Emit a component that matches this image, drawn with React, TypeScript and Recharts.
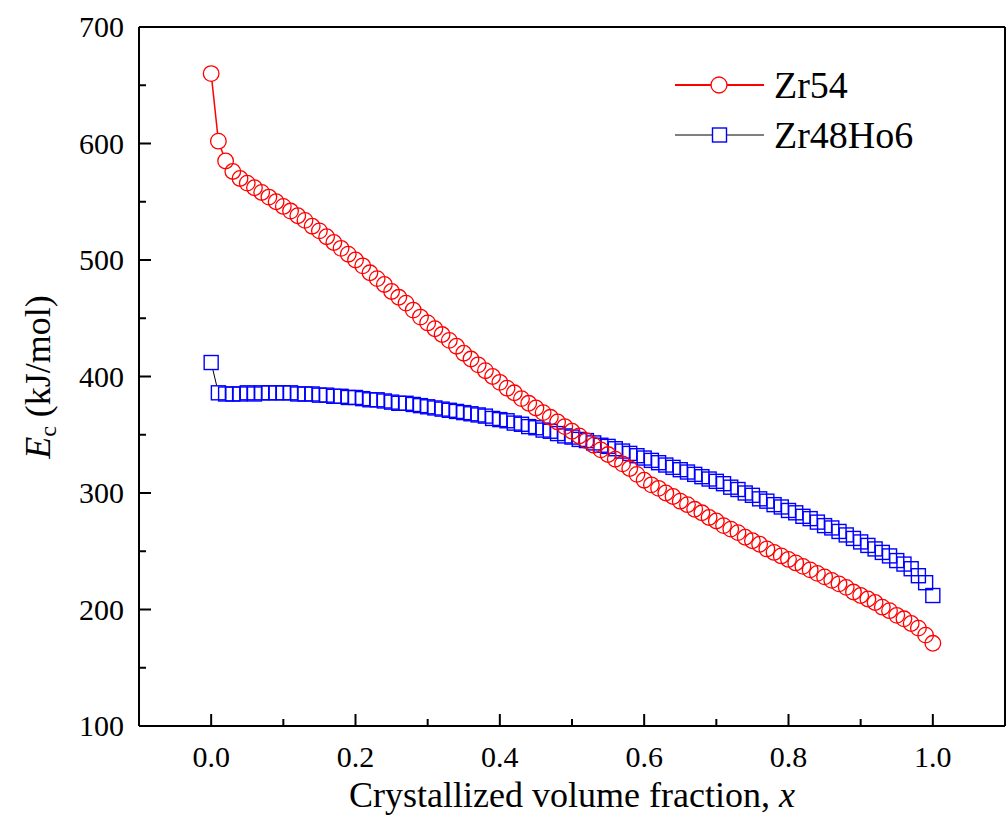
import { LineChart, Line, XAxis, YAxis, ReferenceLine, Legend, Label } from "recharts";

const FONT = "Liberation Serif";

// crystallized volume fraction x
const fractions = [
  0.0, 0.01, 0.02, 0.03, 0.04, 0.05, 0.06, 0.07, 0.08, 0.09,
  0.1, 0.11, 0.12, 0.13, 0.14, 0.15, 0.16, 0.17, 0.18, 0.19,
  0.2, 0.21, 0.22, 0.23, 0.24, 0.25, 0.26, 0.27, 0.28, 0.29,
  0.3, 0.31, 0.32, 0.33, 0.34, 0.35, 0.36, 0.37, 0.38, 0.39,
  0.4, 0.41, 0.42, 0.43, 0.44, 0.45, 0.46, 0.47, 0.48, 0.49,
  0.5, 0.51, 0.52, 0.53, 0.54, 0.55, 0.56, 0.57, 0.58, 0.59,
  0.6, 0.61, 0.62, 0.63, 0.64, 0.65, 0.66, 0.67, 0.68, 0.69,
  0.7, 0.71, 0.72, 0.73, 0.74, 0.75, 0.76, 0.77, 0.78, 0.79,
  0.8, 0.81, 0.82, 0.83, 0.84, 0.85, 0.86, 0.87, 0.88, 0.89,
  0.9, 0.91, 0.92, 0.93, 0.94, 0.95, 0.96, 0.97, 0.98, 0.99,
  1.0,
];

// Ec (kJ/mol), Zr54
const zr54 = [
  660, 602, 585, 576, 570, 566, 562, 558, 554, 550,
  546, 542, 538, 534, 529, 525, 520, 515, 510, 505,
  500, 495, 489, 484, 479, 473, 468, 463, 457, 451,
  446, 441, 436, 431, 426, 420, 415, 410, 405, 400,
  395, 390, 386, 381, 377, 373, 369, 365, 361, 357,
  353, 349, 345, 341, 337, 333, 329, 325, 321, 316,
  311, 307, 304, 300, 297, 293, 290, 286, 283, 279,
  276, 272, 269, 266, 262, 259, 256, 252, 249, 246,
  243, 240, 237, 234, 231, 228, 225, 222, 219, 215,
  212, 209, 206, 202, 199, 195, 192, 188, 184, 178,
  171,
];

// Ec (kJ/mol), Zr48Ho6
const zr48ho6 = [
  412, 386, 385, 385, 385, 386, 385, 386, 386, 386,
  386, 386, 385, 385, 385, 384, 384, 383, 383, 382,
  382, 381, 380, 380, 379, 378, 377, 377, 376, 375,
  374, 373, 372, 371, 370, 369, 368, 367, 366, 364,
  363, 362, 360, 359, 357, 356, 354, 353, 351, 349,
  348, 346, 345, 343, 341, 340, 338, 336, 334, 332,
  330, 328, 326, 324, 322, 320, 318, 316, 314, 312,
  310, 308, 305, 303, 300, 298, 295, 293, 290, 288,
  285, 283, 280, 278, 275, 272, 270, 267, 264, 261,
  258, 255, 252, 249, 246, 242, 239, 235, 229, 223,
  212,
];

const xTicks = [0, 0.1, 0.2, 0.3, 0.4, 0.5, 0.6, 0.7, 0.8, 0.9, 1.0];
const yTicks = [100, 150, 200, 250, 300, 350, 400, 450, 500, 550, 600, 650, 700];

const data = fractions.map((x, i) => ({ x, zr54: zr54[i], zr48ho6: zr48ho6[i] }));

const XTick = ({ x, y, payload }: any) => {
  const v = payload.value;
  const major = Math.round(v * 10) % 2 === 0;
  return (
    <g>
      <line x1={x} x2={x} y1={y} y2={y - (major ? 12 : 7)} stroke="#000" strokeWidth={2} />
      {major && (
        <text x={x} y={y + 41} textAnchor="middle" fontSize={30} style={{ fontFamily: FONT }}>
          {v.toFixed(1)}
        </text>
      )}
    </g>
  );
};

const YTick = ({ x, y, payload }: any) => {
  const v = payload.value;
  const major = v % 100 === 0;
  return (
    <g>
      <line x1={x} x2={x + (major ? 12 : 7)} y1={y} y2={y} stroke="#000" strokeWidth={2} />
      {major && (
        <text x={x - 15} y={y + 10} textAnchor="end" fontSize={30} style={{ fontFamily: FONT }}>
          {v}
        </text>
      )}
    </g>
  );
};

// white discs hide the connecting line inside the markers, outlines go on top
const whiteSquare = (p: any) => (
  <rect key={`bw${p.index}`} x={p.cx - 7} y={p.cy - 7} width={14} height={14} fill="#fff" stroke="none" />
);
const whiteCircle = (p: any) => (
  <circle key={`rw${p.index}`} cx={p.cx} cy={p.cy} r={7.8} fill="#fff" stroke="none" />
);
const blueSquare = (p: any) => (
  <rect key={`bs${p.index}`} x={p.cx - 7} y={p.cy - 7} width={14} height={14} fill="none" stroke="#0000ff" strokeWidth={1.4} />
);
const redCircle = (p: any) => (
  <circle key={`rc${p.index}`} cx={p.cx} cy={p.cy} r={7.8} fill="none" stroke="#ff0000" strokeWidth={1.3} />
);

const LegendBox = () => (
  <svg width={260} height={100} style={{ display: "block" }}>
    <line x1={15} x2={104} y1={25} y2={25} stroke="#ff0000" strokeWidth={2} />
    <circle cx={59} cy={25} r={8} fill="#fff" stroke="#ff0000" strokeWidth={1.3} />
    <text x={114} y={38} fontSize={38} style={{ fontFamily: FONT }}>Zr54</text>
    <line x1={15} x2={104} y1={75} y2={75} stroke="#000" strokeWidth={1} />
    <rect x={52.5} y={68} width={14} height={14} fill="#fff" stroke="#0000ff" strokeWidth={1.4} />
    <text x={114} y={88} fontSize={38} style={{ fontFamily: FONT }}>Zr48Ho6</text>
  </svg>
);

export default function App() {
  return (
    <div style={{ position: "absolute", left: 0, top: 0, background: "#fff" }}>
      <LineChart width={1007} height={823} data={data} margin={{ top: 27, right: 2, bottom: 0, left: 0 }}>
        <XAxis
          dataKey="x"
          type="number"
          domain={[-0.1, 1.1]}
          ticks={xTicks}
          allowDataOverflow
          height={97}
          tickSize={0}
          tickMargin={0}
          tickLine={false}
          axisLine={{ stroke: "#000", strokeWidth: 2 }}
          tick={<XTick />}
          interval={0}
        >
          <Label
            content={() => (
              <text x={572} y={807} textAnchor="middle" fontSize={36} style={{ fontFamily: FONT }}>
                Crystallized volume fraction, <tspan fontStyle="italic">x</tspan>
              </text>
            )}
          />
        </XAxis>
        <YAxis
          type="number"
          domain={[100, 700]}
          ticks={yTicks}
          allowDataOverflow
          width={139}
          tickSize={0}
          tickMargin={0}
          tickLine={false}
          axisLine={{ stroke: "#000", strokeWidth: 2 }}
          tick={<YTick />}
          interval={0}
        >
          <Label
            content={() => (
              <text transform="translate(50, 377) rotate(-90)" textAnchor="middle" fontSize={36} style={{ fontFamily: FONT }}>
                <tspan fontStyle="italic">E</tspan>
                <tspan fontSize={24} dy={6}>c</tspan>
                <tspan dy={-6}> (kJ/mol)</tspan>
              </text>
            )}
          />
        </YAxis>
        <ReferenceLine y={700} stroke="#000" strokeWidth={2} ifOverflow="visible" />
        <ReferenceLine x={1.1} stroke="#000" strokeWidth={2} ifOverflow="visible" />
        <Legend
          layout="horizontal"
          verticalAlign="middle"
          align="center"
          content={() => <LegendBox />}
          wrapperStyle={{ left: 660, top: 60, width: 260, height: 100 }}
        />
        <Line dataKey="zr48ho6" stroke="#000" strokeWidth={1} dot={whiteSquare} activeDot={false} isAnimationActive={false} legendType="none" />
        <Line dataKey="zr54" stroke="#ff0000" strokeWidth={1.5} dot={whiteCircle} activeDot={false} isAnimationActive={false} legendType="none" />
        <Line dataKey="zr48ho6" stroke="none" dot={blueSquare} activeDot={false} isAnimationActive={false} legendType="none" />
        <Line dataKey="zr54" stroke="none" dot={redCircle} activeDot={false} isAnimationActive={false} legendType="none" />
      </LineChart>
    </div>
  );
}
